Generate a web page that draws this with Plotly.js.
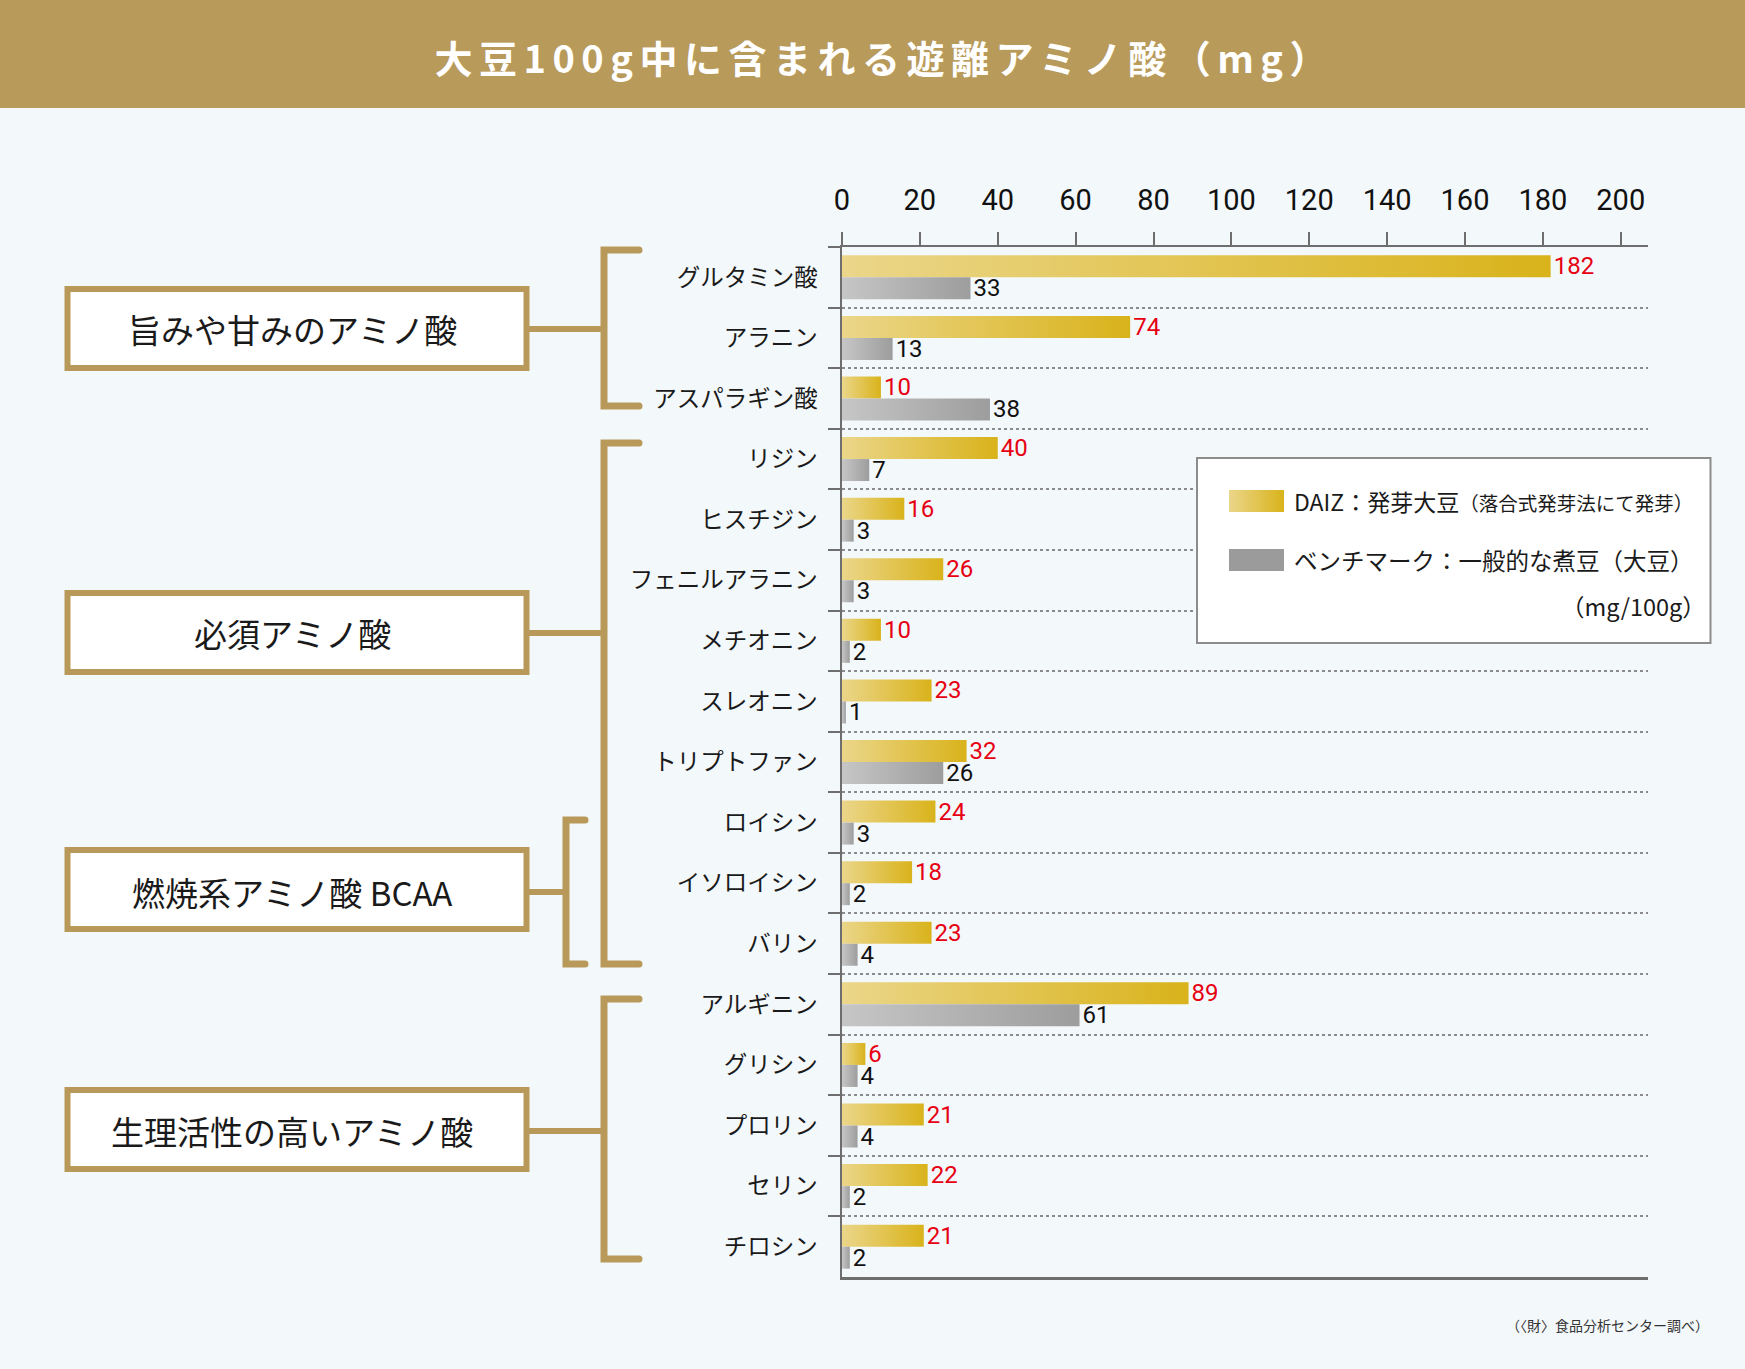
<!DOCTYPE html>
<html><head><meta charset="utf-8">
<script src="https://cdn.plot.ly/plotly-3.0.1.min.js"></script>
<style>html,body{margin:0;padding:0;background:#f3f8fb;} #chart{width:1745px;height:1369px;}</style>
</head><body><div id="chart"></div>
<script>
const categories = ['グルタミン酸','アラニン','アスパラギン酸','リジン','ヒスチジン','フェニルアラニン','メチオニン','スレオニン','トリプトファン','ロイシン','イソロイシン','バリン','アルギニン','グリシン','プロリン','セリン','チロシン'];
const daizValues = [182,74,10,40,16,26,10,23,32,24,18,23,89,6,21,22,21];
const benchmarkValues = [33,13,38,7,3,3,2,1,26,3,2,4,61,4,4,2,2];
const xTickValues = [0,20,40,60,80,100,120,140,160,180,200];
const seriesNames = ['DAIZ：発芽大豆','ベンチマーク：一般的な煮豆（大豆）'];
const seriesNote = '（落合式発芽法にて発芽）';
const unitLabel = '（mg/100g）';
const groupNames = ['旨みや甘みのアミノ酸','必須アミノ酸','燃焼系アミノ酸 BCAA','生理活性の高いアミノ酸'];
const chartTitle = '大豆100g中に含まれる遊離アミノ酸（mg）';
const sourceNote = '（〈財〉食品分析センター調べ）';

const W = 1745, H = 1369;
const M = {l: 842, r: 97, t: 247, b: 92};
const PW = W - M.l - M.r, PH = H - M.t - M.b;
const xp = X => (X - M.l) / PW;
const yp = Y => (H - M.b - Y) / PH;

const GOLD = '#b8995a';
const numFont = "'Liberation Sans Narrow', 'Roboto', sans-serif";
const jpFont = "'Noto Sans CJK JP', 'Noto Sans', sans-serif";

const data = [
  {type:'bar', orientation:'h', name:seriesNames[0], y:categories, x:daizValues,
   marker:{color:'#e1c450'}, text:daizValues.map(String), textposition:'outside',
   constraintext:'none', cliponaxis:false,
   textfont:{family:numFont, size:24, color:'#e60012'}, hoverinfo:'skip'},
  {type:'bar', orientation:'h', name:seriesNames[1], y:categories, x:benchmarkValues,
   marker:{color:'#b0b0b0'}, text:benchmarkValues.map(String), textposition:'outside',
   constraintext:'none', cliponaxis:false,
   textfont:{family:numFont, size:24, color:'#111'}, hoverinfo:'skip'}
];

// group decoration geometry (pixels)
const boxes = [
  {y0:289, y1:368, cy:329},
  {y0:593, y1:672, cy:633},
  {y0:850, y1:929, cy:892},
  {y0:1090, y1:1169, cy:1131}
];
const brackets = [
  {x:604, xe:639, y0:250, y1:406},
  {x:604, xe:639, y0:443, y1:964},
  {x:566, xe:585, y0:820, y1:964},
  {x:604, xe:639, y0:999, y1:1259}
];

const shapes = [];
const annotations = [];
// banner
shapes.push({type:'rect', xref:'paper', yref:'paper', x0:xp(0), x1:xp(W), y0:yp(108), y1:yp(0),
  fillcolor:'#b89a5b', line:{width:0}, layer:'below'});
annotations.push({xref:'paper', yref:'paper', x:xp(884), y:yp(56), xanchor:'center', yanchor:'middle',
  text:'<b>'+chartTitle+'</b>', showarrow:false, font:{family:jpFont, size:38, color:'#ffffff'}});

boxes.forEach((b,i)=>{
  shapes.push({type:'rect', xref:'paper', yref:'paper', x0:xp(67.5), x1:xp(526.5), y0:yp(b.y1), y1:yp(b.y0),
    fillcolor:'#ffffff', line:{color:GOLD, width:6}});
  annotations.push({xref:'paper', yref:'paper', x:xp(292), y:yp(b.cy), xanchor:'center', yanchor:'middle',
    text:groupNames[i], showarrow:false, font:{family:jpFont, size:33, color:'#1a1a1a'}});
});
brackets.forEach(k=>{
  shapes.push({type:'path', xref:'paper', yref:'paper',
    path:`M ${xp(k.xe)} ${yp(k.y0)} L ${xp(k.x)} ${yp(k.y0)} L ${xp(k.x)} ${yp(k.y1)} L ${xp(k.xe)} ${yp(k.y1)}`,
    line:{color:GOLD, width:7}});
});
boxes.forEach((b,i)=>{
  const k = brackets[i];
  shapes.push({type:'line', xref:'paper', yref:'paper', x0:xp(529), x1:xp(k.x), y0:yp(b.cy), y1:yp(b.cy),
    line:{color:GOLD, width:6}});
});

// legend box
shapes.push({type:'rect', xref:'paper', yref:'paper', x0:xp(1197), x1:xp(1710.5), y0:yp(643), y1:yp(458),
  fillcolor:'#ffffff', line:{color:'#8c8c8c', width:2}});
shapes.push({type:'rect', xref:'paper', yref:'paper', x0:xp(1229), x1:xp(1284), y0:yp(512), y1:yp(490),
  fillcolor:'rgb(225, 196, 81)', line:{width:0}});
shapes.push({type:'rect', xref:'paper', yref:'paper', x0:xp(1229), x1:xp(1284), y0:yp(571), y1:yp(549),
  fillcolor:'#9b9b9b', line:{width:0}});
annotations.push({xref:'paper', yref:'paper', x:xp(1292), y:yp(501), xanchor:'left', yanchor:'middle', showarrow:false,
  text:seriesNames[0]+'<span style="font-size:19.5px">'+seriesNote+'</span>', font:{family:jpFont, size:23, color:'#1a1a1a'}});
annotations.push({xref:'paper', yref:'paper', x:xp(1292), y:yp(560), xanchor:'left', yanchor:'middle', showarrow:false,
  text:seriesNames[1], font:{family:jpFont, size:23.5, color:'#1a1a1a'}});
annotations.push({xref:'paper', yref:'paper', x:xp(1708), y:yp(606), xanchor:'right', yanchor:'middle', showarrow:false,
  text:unitLabel, font:{family:jpFont, size:23.5, color:'#1a1a1a'}});
// source note
annotations.push({xref:'paper', yref:'paper', x:xp(1711), y:yp(1325), xanchor:'right', yanchor:'middle', showarrow:false,
  text:sourceNote, font:{family:jpFont, size:14, color:'#333'}});

const layout = {
  width:W, height:H, margin:M,
  paper_bgcolor:'#f3f8fb', plot_bgcolor:'rgba(0,0,0,0)',
  showlegend:false, barmode:'group', bargap:0.274, bargroupgap:0,
  xaxis:{side:'top', range:[0,207], tickvals:xTickValues, ticktext:xTickValues.map(String),
    ticks:'outside', ticklen:13, tickwidth:2, tickcolor:'#6e6e6e',
    showline:true, linecolor:'#6e6e6e', linewidth:2.5, mirror:true,
    showgrid:false, zeroline:false, ticklabelstandoff:10,
    tickfont:{family:numFont, size:29, color:'#111'}},
  yaxis:{type:'category', categoryorder:'array', categoryarray:categories, autorange:'reversed',
    tickson:'boundaries', ticks:'outside', ticklen:12, tickwidth:2, tickcolor:'#6e6e6e',
    showline:true, linecolor:'#6e6e6e', linewidth:2.5,
    showgrid:true, gridcolor:'#8a8a8a', gridwidth:2, griddash:'dot', zeroline:false,
    ticklabelstandoff:17,
    tickfont:{family:jpFont, size:23.5, color:'#1a1a1a'}},
  shapes:shapes, annotations:annotations
};

Plotly.newPlot('chart', data, layout, {staticPlot:true}).then(gd=>{
  const NS='http://www.w3.org/2000/svg';
  const svg = gd.querySelector('.main-svg');
  let defs = svg.querySelector('defs');
  if(!defs){defs=document.createElementNS(NS,'defs'); svg.insertBefore(defs, svg.firstChild);}
  function grad(id,c1,c2){
    const g=document.createElementNS(NS,'linearGradient');
    g.setAttribute('id',id); g.setAttribute('x1','0'); g.setAttribute('y1','0'); g.setAttribute('x2','1'); g.setAttribute('y2','0');
    [[0,c1],[1,c2]].forEach(([o,c])=>{const s=document.createElementNS(NS,'stop'); s.setAttribute('offset',o); s.setAttribute('stop-color',c); g.appendChild(s);});
    defs.appendChild(g);
  }
  grad('gGold','#ebd68a','#d9b31b');
  grad('gGray','#c6c6c6','#9d9d9d');
  const traces = gd.querySelectorAll('.barlayer .trace');
  if(traces[0]) traces[0].querySelectorAll('.point path').forEach(p=>{p.style.fill='url(#gGold)';});
  if(traces[1]) traces[1].querySelectorAll('.point path').forEach(p=>{p.style.fill='url(#gGray)';});
  gd.querySelectorAll('.shapelayer path').forEach(p=>{
    const st = p.getAttribute('style')||'';
    if(st.indexOf('rgb(225, 196, 81)')>=0) p.style.fill='url(#gGold)';
    if(st.indexOf('rgb(184, 153, 90)')>=0){p.style.strokeLinecap='round'; p.style.strokeLinejoin='miter';}
  });
  gd.querySelectorAll('.annotation-text').forEach(t=>{
    if(t.textContent.indexOf('大豆100g')>=0) t.style.letterSpacing='6.5px';
  });
});
</script>
</body></html>
